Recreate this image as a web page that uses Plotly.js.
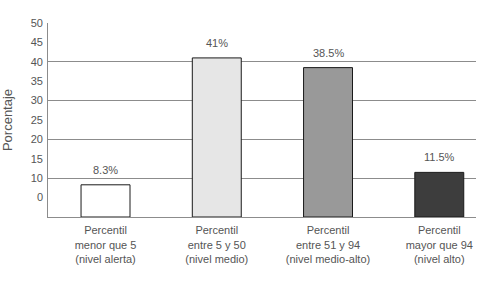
<!DOCTYPE html>
<html>
<head>
<meta charset="utf-8">
<script src="https://cdn.plot.ly/plotly-3.0.1.min.js"></script>
<style>html,body{margin:0;padding:0;background:#fff;}#chart{width:484px;height:291px;}</style>
</head>
<body>
<div id="chart"></div>
<script>
var categories = [
  "Percentil<br>menor que 5<br>(nivel alerta)",
  "Percentil<br>entre 5 y 50<br>(nivel medio)",
  "Percentil<br>entre 51 y 94<br>(nivel medio-alto)",
  "Percentil<br>mayor que 94<br>(nivel alto)"
];
var values = [8.3, 41, 38.5, 11.5];
var valueLabels = ["8.3%", "41%", "38.5%", "11.5%"];
var barColors = ["#ffffff", "#e6e6e6", "#999999", "#3d3d3d"];
var yTickVals = [5, 10, 15, 20, 25, 30, 35, 40, 45, 50];
var yTickText = ["0", "10", "15", "20", "25", "30", "35", "40", "45", "50"];

var font = {family: "Liberation Sans, Arial, sans-serif", size: 11, color: "#555555"};

var trace = {
  type: "bar",
  x: [0, 1, 2, 3],
  y: values,
  width: 0.44,
  marker: {color: barColors, line: {color: "#1a1a1a", width: 1}},
  hoverinfo: "none"
};

var labelAxisTrace = {
  type: "scatter", mode: "none",
  x: [0], y: [values[0]],
  yaxis: "y2", hoverinfo: "none", showlegend: false
};

var annotations = values.map(function (v, i) {
  return {
    x: i, y: v, xref: "x", yref: "y",
    text: valueLabels[i], showarrow: false,
    yanchor: "middle", yshift: 15,
    font: font
  };
});

var layout = {
  width: 484, height: 291,
  margin: {l: 48, r: 8, t: 23, b: 74, pad: 0},
  paper_bgcolor: "#ffffff", plot_bgcolor: "#ffffff",
  font: font,
  showlegend: false,
  xaxis: {
    range: [-0.517, 3.33],
    tickvals: [0, 1, 2, 3],
    ticktext: categories,
    ticks: "", showgrid: false, zeroline: false,
    showline: true, linecolor: "#8c8c8c", linewidth: 1,
    ticklabelstandoff: 3,
    tickfont: font, automargin: false
  },
  yaxis: {
    range: [0, 50], dtick: 10, tick0: 0,
    showgrid: true, gridcolor: "#8c8c8c", gridwidth: 1,
    zeroline: false, showticklabels: false, ticks: "",
    showline: true, linecolor: "#8c8c8c", linewidth: 1,
    automargin: false
  },
  yaxis2: {
    overlaying: "y", side: "left",
    range: [0, 50],
    tickvals: yTickVals, ticktext: yTickText,
    showgrid: false, zeroline: false, ticks: "",
    showline: false,
    ticklabelstandoff: 4,
    tickfont: font,
    title: {text: "Porcentaje", font: {family: "Liberation Sans, Arial, sans-serif", size: 13, color: "#555555"}, standoff: 15},
    automargin: false
  },
  annotations: annotations
};

Plotly.newPlot("chart", [trace, labelAxisTrace], layout, {staticPlot: true, displayModeBar: false});
</script>
</body>
</html>
